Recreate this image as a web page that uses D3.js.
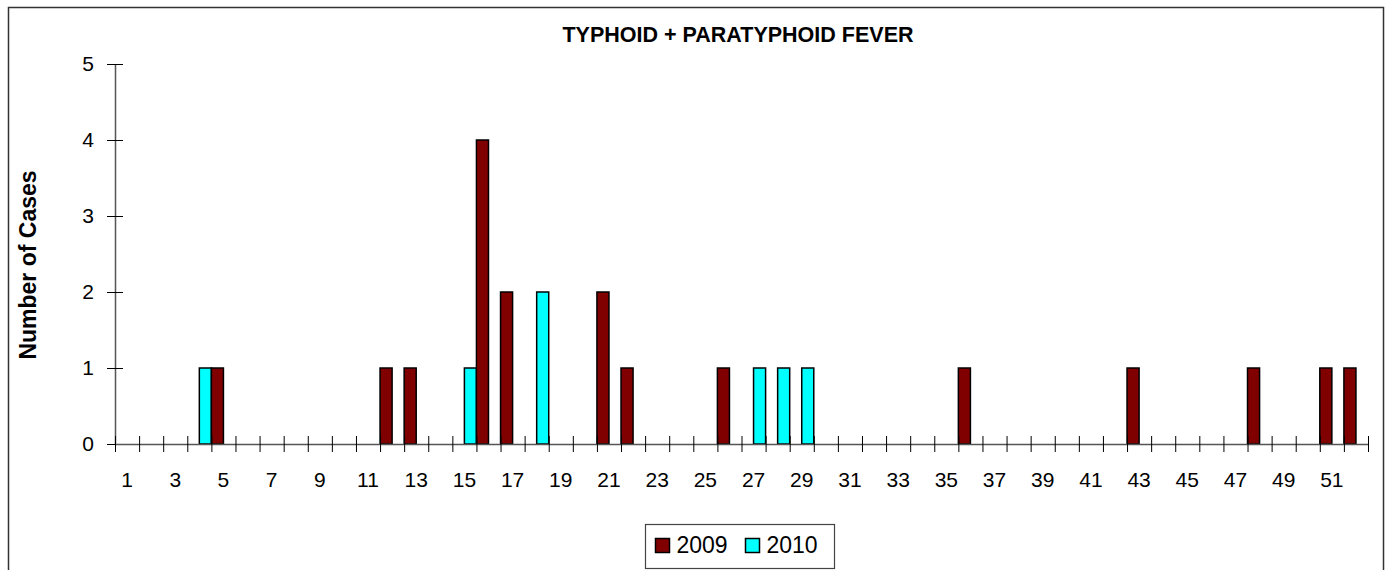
<!DOCTYPE html>
<html>
<head>
<meta charset="utf-8">
<script src="https://cdn.jsdelivr.net/npm/d3@7"></script>
<style>
  body { margin: 0; background: #fff; }
  text { font-family: Arial, "Liberation Sans", sans-serif; fill: #000; }
</style>
</head>
<body>
<div id="chart"></div>
<script>
// weekly case counts, week 1..52
var weeks = d3.range(1, 53);
var series = ["2009", "2010"];
var cases2009 = [0,0,0,0,1,0,0,0,0,0,
                 0,1,1,0,0,4,2,0,0,0,
                 2,1,0,0,0,1,0,0,0,0,
                 0,0,0,0,0,1,0,0,0,0,
                 0,0,1,0,0,0,0,1,0,0,
                 1,1];
var cases2010 = [0,0,0,1,0,0,0,0,0,0,
                 0,0,0,0,1,0,0,2,0,0,
                 0,0,0,0,0,0,1,1,1,0,
                 0,0,0,0,0,0,0,0,0,0,
                 0,0,0,0,0,0,0,0,0,0,
                 0,0];
var yTicks = [0, 1, 2, 3, 4, 5];
var xLabels = weeks.filter(function(w) { return w % 2 == 1; });
var colors = {"2009": "#800000", "2010": "#00ffff"};

var W = 1390, H = 570;
var margin = {top: 64, left: 115, right: 22, bottom: 126};
var plotW = W - margin.left - margin.right,
    plotH = H - margin.top - margin.bottom;

var data = weeks.map(function(w, i) {
  return {week: w, values: [
    {key: "2009", value: cases2009[i]},
    {key: "2010", value: cases2010[i]}
  ]};
});

var svg = d3.select("#chart").append("svg")
    .attr("width", W)
    .attr("height", H);

// outer frame
svg.append("rect")
    .attr("x", 8.5).attr("y", 7.5)
    .attr("width", 1375).attr("height", 620)
    .attr("fill", "none")
    .attr("stroke", "#333")
    .attr("stroke-width", 1.5);

svg.append("text")
    .attr("x", 738).attr("y", 42)
    .attr("text-anchor", "middle")
    .style("font-size", "21.5px")
    .style("font-weight", "bold")
    .text("TYPHOID + PARATYPHOID FEVER");

var g = svg.append("g")
    .attr("transform", "translate(" + margin.left + "," + margin.top + ")");

// scales
var x0 = d3.scaleBand().domain(weeks).range([0, plotW]).padding(0);
var x1 = d3.scaleBand().domain(series).range([0, x0.bandwidth()]).padding(0);
var xt = d3.scaleLinear().domain([0, weeks.length]).range([0, plotW]);
var y = d3.scaleLinear().domain([0, 5]).range([plotH, 0]);

// y axis, ticks crossing the line
var yAxis = g.append("g")
    .call(d3.axisLeft(y).tickValues(yTicks).tickFormat(d3.format("d"))
      .tickSize(8).tickSizeOuter(0).tickPadding(13));
yAxis.select(".domain").attr("stroke", "#555").attr("stroke-width", 1.5);
yAxis.selectAll(".tick line").attr("x1", 8).attr("stroke", "#000");
yAxis.selectAll(".tick text").style("font-size", "21px").attr("font-family", null);

// bars
var wk = g.selectAll(".week")
  .data(data)
  .enter()
  .append("g")
    .attr("transform", function(d) { return "translate(" + x0(d.week) + ",0)"; });

wk.selectAll("rect")
  .data(function(d) { return d.values.filter(function(v) { return v.value > 0; }); })
  .enter()
  .append("rect")
    .attr("x", function(d) { return x1(d.key); })
    .attr("y", function(d) { return y(d.value); })
    .attr("width", x1.bandwidth())
    .attr("height", function(d) { return y(0) - y(d.value); })
    .attr("fill", function(d) { return colors[d.key]; })
    .attr("stroke", "#000")
    .attr("stroke-width", 1.5);

// x axis: tick marks on week boundaries
var xAxis = g.append("g")
    .attr("transform", "translate(0," + plotH + ")")
    .call(d3.axisBottom(xt).tickValues(d3.range(0, weeks.length + 1)).tickSize(8).tickSizeOuter(0).tickFormat(""));
xAxis.select(".domain").attr("stroke", "#555").attr("stroke-width", 1.5);
xAxis.selectAll(".tick line").attr("y1", -8).attr("stroke", "#000");

// x labels at odd weeks
var xLab = g.append("g")
    .attr("transform", "translate(0," + plotH + ")")
    .call(d3.axisBottom(x0).tickValues(xLabels).tickSize(0).tickPadding(28));
xLab.select(".domain").remove();
xLab.selectAll(".tick text").style("font-size", "21px").attr("font-family", null);

// y title
svg.append("text")
    .attr("transform", "translate(36,265) rotate(-90)")
    .attr("text-anchor", "middle")
    .style("font-size", "23px")
    .style("font-weight", "bold")
    .text("Number of Cases");

// legend
var leg = svg.append("g").attr("transform", "translate(645.5,524.5)");
leg.append("rect")
    .attr("width", 189).attr("height", 44)
    .attr("fill", "#fff")
    .attr("stroke", "#444")
    .attr("stroke-width", 1.2);

var legX = [10, 100];
series.forEach(function(s, i) {
  leg.append("rect")
      .attr("x", legX[i]).attr("y", 14)
      .attr("width", 14).attr("height", 14)
      .attr("fill", colors[s])
      .attr("stroke", "#000")
      .attr("stroke-width", 1.5);
  leg.append("text")
      .attr("x", legX[i] + 21).attr("y", 28)
      .style("font-size", "23px")
      .text(s);
});
</script>
</body>
</html>
